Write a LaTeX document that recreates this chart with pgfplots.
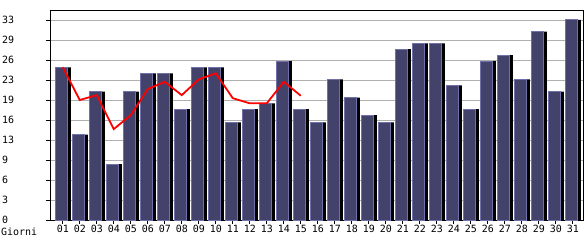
\documentclass[border=0pt]{standalone}
\usepackage{pgfplots}
\pgfplotsset{compat=1.18}
\usepackage{fontspec}
\setmainfont{DejaVu Sans Mono}
\definecolor{barfill}{RGB}{66,66,106}
\definecolor{baredge}{RGB}{112,112,170}
\definecolor{gridgray}{RGB}{176,176,176}
\begin{document}
\begin{tikzpicture}
\useasboundingbox (0,0) rectangle (585bp,240bp);
\begin{axis}[
  at={(50bp,20bp)}, anchor=south west,
  scale only axis, width=533bp, height=210bp,
  xmin=0.25, xmax=31.6, ymin=0, ymax=34.65,
  xtick={1,...,31},
  xticklabels={01,02,03,04,05,06,07,08,09,10,11,12,13,14,15,16,17,18,19,20,21,22,23,24,25,26,27,28,29,30,31},
  ytick={0,3.3,6.6,9.9,13.2,16.5,19.8,23.1,26.4,29.7,33},
  yticklabels={0,3,6,9,13,16,19,23,26,29,33},
  xtick pos=bottom, ytick pos=left,
  ymajorgrids, major grid style={gridgray, line width=0.8pt},
  tick align=outside, major tick length=4bp,
  tick style={black, line width=0.8pt},
  axis line style={line width=0.8pt},
  ticklabel style={font=\fontsize{10}{10}\selectfont},
  yticklabel style={anchor=west, xshift=-44bp, inner sep=0pt},
  xticklabel style={inner sep=1pt},
  /pgf/number format/assume math mode=true,
  clip=false,
]
\addplot[ybar, bar width=12bp, bar shift=2bp, fill=black, draw=none] coordinates {
(1,25.2)(2,14.1)(3,21.2)(4,9.2)(5,21.2)(6,24.2)(7,24.2)(8,18.3)(9,25.2)(10,25.2)
(11,16.1)(12,18.3)(13,19.25)(14,26.2)(15,18.3)(16,16.1)(17,23.2)(18,20.2)(19,17.3)(20,16.1)
(21,28.2)(22,29.15)(23,29.15)(24,22.2)(25,18.3)(26,26.2)(27,27.2)(28,23.2)(29,31.1)(30,21.2)(31,33)};
\addplot[ybar, bar width=12bp, bar shift=-1.3bp, fill=barfill, draw=baredge, line width=1pt] coordinates {
(1,25.2)(2,14.1)(3,21.2)(4,9.2)(5,21.2)(6,24.2)(7,24.2)(8,18.3)(9,25.2)(10,25.2)
(11,16.1)(12,18.3)(13,19.25)(14,26.2)(15,18.3)(16,16.1)(17,23.2)(18,20.2)(19,17.3)(20,16.1)
(21,28.2)(22,29.15)(23,29.15)(24,22.2)(25,18.3)(26,26.2)(27,27.2)(28,23.2)(29,31.1)(30,21.2)(31,33)};
\addplot[red, line width=1.8pt, mark=none] coordinates {
(1,25.2)(2,19.8)(3,20.6)(4,15.0)(5,17.3)(6,21.6)(7,22.8)(8,20.6)(9,23.2)(10,24.2)
(11,20.1)(12,19.25)(13,19.25)(14,22.8)(15,20.5)};
\end{axis}
\node[anchor=base west, inner sep=0pt, font=\fontsize{10}{10}\selectfont] at (1bp,5bp) {Giorni};
\end{tikzpicture}
\end{document}
